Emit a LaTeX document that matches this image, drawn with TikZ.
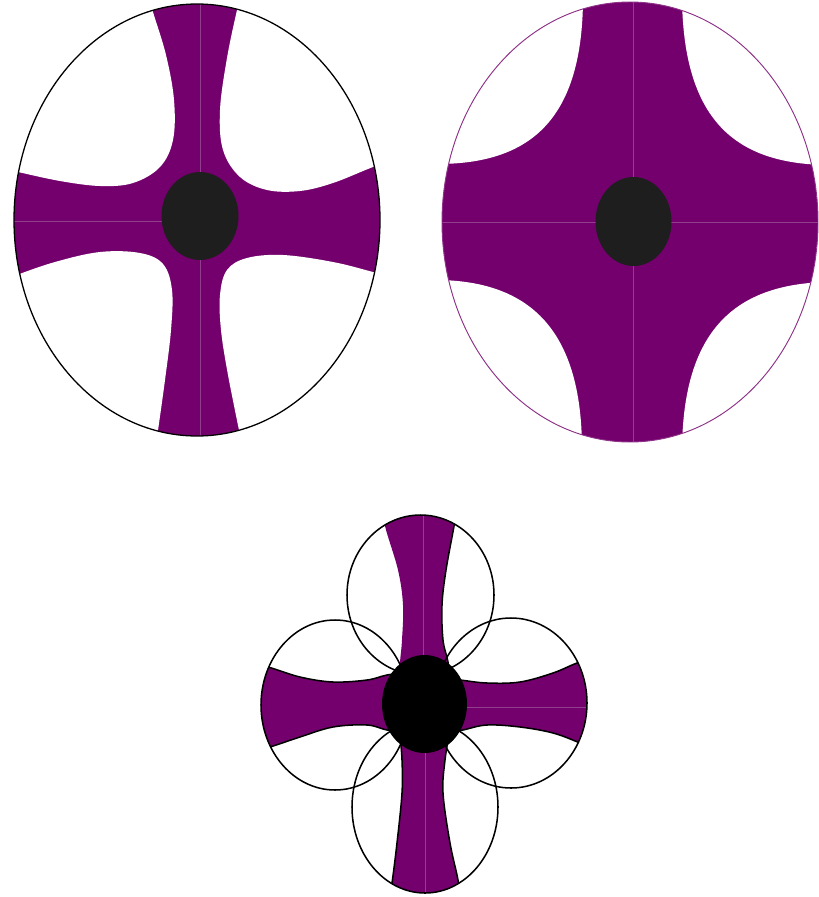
\documentclass[tikz,border=0pt]{standalone}
\definecolor{crosspurple}{RGB}{115,0,108}
\definecolor{seampurple}{RGB}{145,62,140}
\definecolor{hubgrey}{RGB}{30,30,30}
\begin{document}
\begin{tikzpicture}[x=0.03cm,y=-0.03cm,
  rim/.style={black,line width=1.1pt},
  seam/.style={seampurple,line width=0.5pt},
  armedge/.style={black,line width=1.3pt},
  petal/.style={black,line width=1.3pt}]
\path[use as bounding box] (0,0) rectangle (819,897);
\begin{scope}
\clip (197,220) ellipse [x radius=183,y radius=216];
\fill[crosspurple] (197,220) ellipse [x radius=183,y radius=216];
\fill[white] plot[smooth,tension=0.6] coordinates {(150,0) (153,12) (166,55) (174,100) (173,140) (160,167) (133,183) (100,186) (60,181) (18,172) (0,168)} -- (0,0) -- cycle;
\fill[white] plot[smooth,tension=0.6] coordinates {(240,0) (237,10) (227,58) (220,110) (223,150) (240,177) (267,190) (300,191) (333,183) (373,167) (395,160)} -- (395,0) -- cycle;
\fill[white] plot[smooth,tension=0.6] coordinates {(0,282) (14,276) (55,262) (100,252) (140,253) (163,264) (172,290) (171,330) (165,380) (157,437) (155,445)} -- (0,445) -- cycle;
\fill[white] plot[smooth,tension=0.6] coordinates {(395,278) (373,272) (333,262) (283,255) (247,258) (227,270) (220,295) (221,330) (228,375) (241,440) (242,445)} -- (395,445) -- cycle;
\draw[seam] (200,0) -- (200,445);
\draw[seam] (10,221) -- (162,221);
\end{scope}
\draw[rim] (197,220) ellipse [x radius=183,y radius=216];
\fill[hubgrey] (200,216) ellipse [x radius=38.5,y radius=44];
\begin{scope}
\clip (630,222) ellipse [x radius=188,y radius=220];
\fill[crosspurple] (630,222) ellipse [x radius=188,y radius=220];
\fill[white] (583,0) .. controls (582,120) and (530,163) .. (440,164) -- (430,164) -- (430,0) -- cycle;
\fill[white] (682,0) .. controls (684,120) and (735,163) .. (825,165) -- (830,165) -- (830,0) -- cycle;
\fill[white] (440,280) .. controls (530,282) and (582,330) .. (582,450) -- (430,450) -- (430,280) -- cycle;
\fill[white] (825,282) .. controls (735,285) and (683,330) .. (682,450) -- (830,450) -- (830,282) -- cycle;
\draw[seam] (633,0) -- (633,445);
\draw[seam] (440,222) -- (820,222);
\end{scope}
\draw[crosspurple!80!white,line width=0.8pt] (630,222) ellipse [x radius=188,y radius=220];
\fill[hubgrey] (633.5,221.5) ellipse [x radius=38,y radius=44.5];
\begin{scope}
\clip (420.5,595) ellipse [x radius=73.5,y radius=80];
\fill[crosspurple] plot[smooth,tension=0.6] coordinates {(383,505) (385,526) (398,570) (403,605) (402,640) (400,662) (399,680)} -- plot[smooth,tension=0.6] coordinates {(449,680) (448,662) (443,640) (442,605) (446,570) (454,526) (457,505)} -- cycle;
\draw[seam] (423,505) -- (423,680);
\draw[armedge] plot[smooth,tension=0.6] coordinates {(449,680) (448,662) (443,640) (442,605) (446,570) (454,526) (457,505)};
\end{scope}
\begin{scope}
\clip (335,705) ellipse [x radius=74,y radius=85];
\fill[crosspurple] plot[smooth,tension=0.6] coordinates {(250,664) (268,667) (300,677) (333,682) (367,680) (387,675) (410,672)} -- plot[smooth,tension=0.6] coordinates {(410,733) (387,730) (367,725) (333,727) (300,737) (270,747) (250,752)} -- cycle;
\draw[armedge] plot[smooth,tension=0.6] coordinates {(250,664) (268,667) (300,677) (333,682) (367,680) (387,675) (410,672)};
\draw[armedge] plot[smooth,tension=0.6] coordinates {(410,733) (387,730) (367,725) (333,727) (300,737) (270,747) (250,752)};
\end{scope}
\begin{scope}
\clip (511,703) ellipse [x radius=76,y radius=85];
\fill[crosspurple] plot[smooth,tension=0.6] coordinates {(440,678) (460,680) (487,683) (520,682) (553,673) (577,663) (600,656)} -- plot[smooth,tension=0.6] coordinates {(600,752) (580,743) (553,733) (520,727) (487,725) (463,730) (440,735)} -- cycle;
\draw[seam] (440,707) -- (600,707);
\draw[armedge] plot[smooth,tension=0.6] coordinates {(440,678) (460,680) (487,683) (520,682) (553,673) (577,663) (600,656)};
\draw[armedge] plot[smooth,tension=0.6] coordinates {(600,752) (580,743) (553,733) (520,727) (487,725) (463,730) (440,735)};
\end{scope}
\begin{scope}
\clip (425,807) ellipse [x radius=73,y radius=86];
\fill[crosspurple] plot[smooth,tension=0.6] coordinates {(400,735) (402,760) (402,793) (397,843) (392,883) (389,900)} -- plot[smooth,tension=0.6] coordinates {(460,900) (458,880) (450,843) (443,793) (445,760) (449,735)} -- cycle;
\draw[seam] (425,735) -- (425,900);
\draw[armedge] plot[smooth,tension=0.6] coordinates {(400,735) (402,760) (402,793) (397,843) (392,883) (389,900)};
\draw[armedge] plot[smooth,tension=0.6] coordinates {(460,900) (458,880) (450,843) (443,793) (445,760) (449,735)};
\end{scope}
\draw[petal] (420.5,595) ellipse [x radius=73.5,y radius=80];
\draw[petal] (335,705) ellipse [x radius=74,y radius=85];
\draw[petal] (511,703) ellipse [x radius=76,y radius=85];
\draw[petal] (425,807) ellipse [x radius=73,y radius=86];
\fill[black] (424.5,704) ellipse [x radius=42.5,y radius=49];
\end{tikzpicture}
\end{document}
